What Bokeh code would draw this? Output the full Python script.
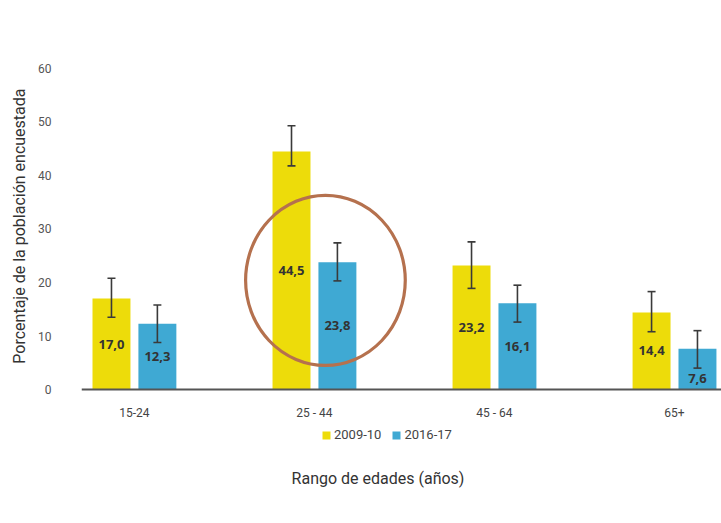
from bokeh.plotting import figure
from bokeh.models import (ColumnDataSource, Range1d, FixedTicker, Whisker, TeeHead,
                          Legend, LegendItem, Ellipse, Label, Title)
from bokeh.transform import dodge
from bokeh.core.properties import value
from bokeh.embed import file_html
from bokeh.resources import INLINE

# ---------------- data ----------------
categories = ["15-24", "25 - 44", "45 - 64", "65+"]
series = ["2009-10", "2016-17"]
v2009 = [17.0, 44.5, 23.2, 14.4]
v2016 = [12.3, 23.8, 16.1, 7.6]
lo2009 = [13.5, 41.8, 18.9, 10.8]
hi2009 = [20.8, 49.3, 27.6, 18.3]
lo2016 = [8.8, 20.3, 12.6, 4.0]
hi2016 = [15.8, 27.4, 19.5, 11.0]
y_ticks = [0, 10, 20, 30, 40, 50, 60]
y_title = "Porcentaje de la población encuestada"
x_title = "Rango de edades (años)"

# ---------------- styles ----------------
YELLOW = "#EDDC0A"
BLUE = "#3FA9D3"
RING = "#B5714E"
COND = "Roboto"
SANS = "Open Sans"
OFF = 0.1275
BAR_W = 0.2108

def fmt(v):
    return f"{v:.1f}".replace(".", ",")

def label_y(vals, lows):
    # value label in the middle of the bar, kept below the error bar
    return [min(v / 2, lo - 2) for v, lo in zip(vals, lows)]

src = ColumnDataSource(dict(
    x=list(range(len(categories))),
    v2009=v2009, v2016=v2016,
    lo2009=lo2009, hi2009=hi2009, lo2016=lo2016, hi2016=hi2016,
    m2009=label_y(v2009, lo2009), m2016=label_y(v2016, lo2016),
    t2009=[fmt(v) for v in v2009], t2016=[fmt(v) for v in v2016],
))

p = figure(width=721, height=523, output_backend="svg", toolbar_location=None,
           x_range=Range1d(-0.294, 3.261), y_range=Range1d(-22.8, 65.23),
           min_border_left=80, min_border_right=0, min_border_top=40,
           min_border_bottom=12, outline_line_color=None)
p.grid.visible = False

r1 = p.vbar(x=dodge("x", -OFF, range=p.x_range), top="v2009", width=BAR_W,
            source=src, fill_color=YELLOW, line_color=None)
r2 = p.vbar(x=dodge("x", OFF, range=p.x_range), top="v2016", width=BAR_W,
            source=src, fill_color=BLUE, line_color=None)

for off, lo, hi in ((-OFF, "lo2009", "hi2009"), (OFF, "lo2016", "hi2016")):
    w = Whisker(source=src, base=dodge("x", off, range=p.x_range), upper=hi, lower=lo,
                line_color="#3a3a3a", line_width=1.6, level="annotation",
                upper_head=TeeHead(size=8, line_color="#3a3a3a", line_width=1.6),
                lower_head=TeeHead(size=8, line_color="#3a3a3a", line_width=1.6))
    p.add_layout(w)

for off, m, t in ((-OFF, "m2009", "t2009"), (OFF, "m2016", "t2016")):
    p.text(x=dodge("x", off, range=p.x_range), y=m, text=t, source=src,
           text_align="center", text_baseline="middle", text_font=value(SANS),
           text_font_size="13px", text_font_style="bold", text_color="#333333")

# highlight ring around the 25-44 group
ring = Ellipse(x=1.061, y=20.4, width=0.887, height=31.8, fill_color=None,
               line_color=RING, line_width=3.2)
p.add_glyph(ring)

# x axis pinned at zero
p.xaxis.fixed_location = 0
p.xaxis.ticker = FixedTicker(ticks=list(range(len(categories))))
p.xaxis.major_label_overrides = {i: c for i, c in enumerate(categories)}
p.xaxis.axis_line_color = "#555555"
p.xaxis.axis_line_width = 2
p.xaxis.major_tick_line_color = None
p.xaxis.minor_tick_line_color = None
p.xaxis.major_label_standoff = 10
p.xaxis.major_label_text_font = COND
p.xaxis.major_label_text_font_size = "12px"
p.xaxis.major_label_text_color = "#444444"

p.yaxis.ticker = FixedTicker(ticks=y_ticks)
p.yaxis.axis_line_color = None
p.yaxis.major_tick_line_color = None
p.yaxis.minor_tick_line_color = None
p.yaxis.major_label_standoff = 24
p.yaxis.major_label_text_font = COND
p.yaxis.major_label_text_font_size = "12px"
p.yaxis.major_label_text_color = "#555555"

# y axis title as a side title, aligned toward the top of the plot
p.add_layout(Title(text=y_title, align="right", offset=48, text_font=COND,
                   text_font_size="16px", text_font_style="normal",
                   text_color="#333333", standoff=14), "left")

legend = Legend(items=[LegendItem(label=series[0], renderers=[r1]),
                       LegendItem(label=series[1], renderers=[r2])],
                location=(240, 69), orientation="horizontal",
                glyph_width=10, glyph_height=10, label_height=14, padding=0,
                spacing=10, label_standoff=3, border_line_color=None,
                background_fill_alpha=0, label_text_font=COND,
                label_text_font_size="13px", label_text_color="#444444",
                margin=0)
p.add_layout(legend)

p.add_layout(Label(x=1.353, y=-16.6, text=x_title, text_align="center",
                   text_baseline="middle", text_font=COND, text_font_size="16px",
                   text_color="#333333"))

open("out.html", "w").write(file_html(p, INLINE))
